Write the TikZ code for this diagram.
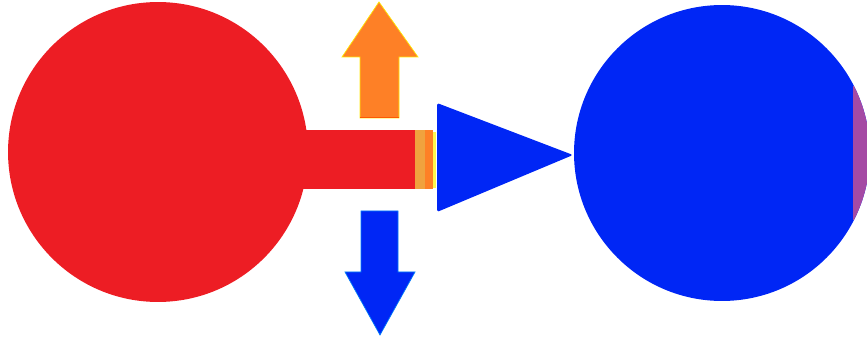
\documentclass[tikz,border=0pt]{standalone}
\usepackage{tikz}
\definecolor{ballred}{RGB}{237,29,36}
\definecolor{pushorange}{RGB}{254,128,38}
\definecolor{lightorange}{RGB}{240,162,62}
\definecolor{pullblue}{RGB}{0,38,245}
\definecolor{rimpurple}{RGB}{165,74,164}

\begin{document}
\begin{tikzpicture}[
  x=0.02cm, y=-0.02cm,
  ball/.style={circle, inner sep=0pt, minimum size=6cm},
  arrowshape/.style={line width=0.4pt, line join=miter}
]
\useasboundingbox (0,0) rectangle (867,341);
\clip (0,0) rectangle (867,341);
% Left ball with its rod
\node[ball, fill=ballred] (redball) at (158,152) {};
\fill[ballred] (300,130) rectangle (415,189);
\fill[lightorange] (415,130) rectangle (425,189);
\fill[pushorange] (425,130) rectangle (433,189);
\fill[yellow!70] (433,132) rectangle (436,188);

% Cone pointing at the right ball
\fill[pullblue, rounded corners=1pt] (437,103) -- (573,155) -- (437,212) -- cycle;

% Right ball, cut by the edge
\node[ball, fill=pullblue, minimum size=5.92cm] (blueball) at (722,153) {};
\begin{scope}
  \clip (853,87) rectangle (870,220);
  \fill[rimpurple] (722,153) circle[radius=2.96cm];
\end{scope}

% Up and down arrows
\filldraw[arrowshape, fill=pushorange, draw=yellow!90!orange]
  (379,2) -- (418,57) -- (399,57) -- (399,118) -- (360,118) -- (360,57) -- (342,57) -- cycle;
\draw[orange!70!red, line width=0.6pt] (360,117.5) -- (399,117.5);
\filldraw[arrowshape, fill=pullblue, draw=pullblue!60!cyan]
  (380,335) -- (415,272) -- (398,272) -- (398,211) -- (361,211) -- (361,272) -- (345,272) -- cycle;
\end{tikzpicture}
\end{document}
